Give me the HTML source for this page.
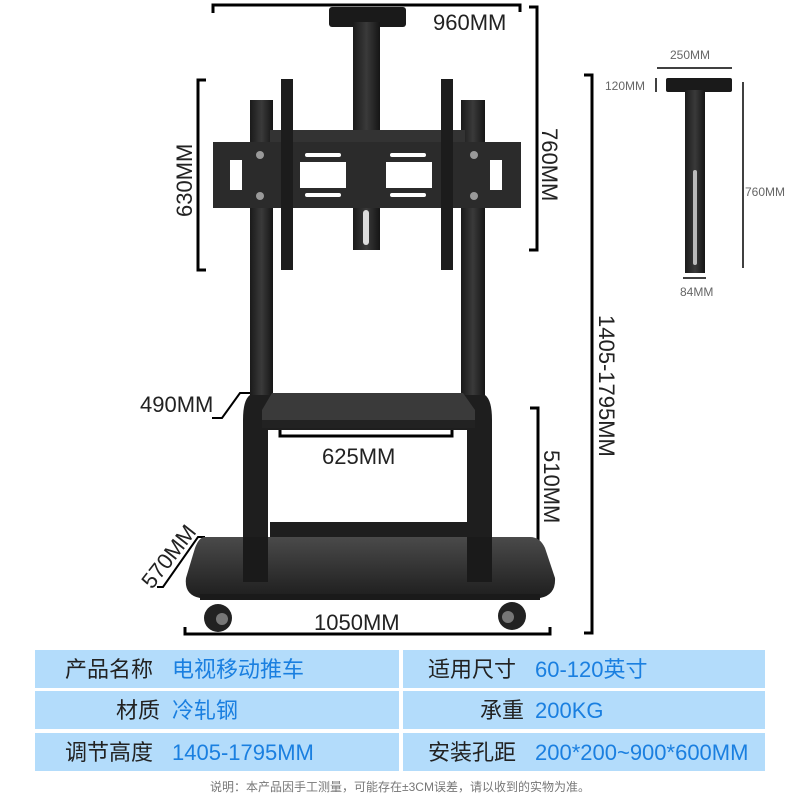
<!DOCTYPE html>
<html><head><meta charset="utf-8"><style>
html,body{margin:0;padding:0;background:#fff;width:800px;height:800px;overflow:hidden}
svg{display:block}
.cn{font-family:"Liberation Sans","Noto Sans CJK SC",sans-serif}
</style></head><body>
<svg width="800" height="800" viewBox="0 0 800 800" xmlns="http://www.w3.org/2000/svg" class="cn">
<defs>
<linearGradient id="g1" x1="0" x2="1"><stop offset="0" stop-color="#1a1a1a"/><stop offset=".5" stop-color="#3a3a3a"/><stop offset="1" stop-color="#151515"/></linearGradient>
<linearGradient id="base" x1="0" y1="0" x2="0" y2="1"><stop offset="0" stop-color="#4a4a4a"/><stop offset="1" stop-color="#1e1e1e"/></linearGradient>
</defs>
<g fill="none" stroke="#000" stroke-width="3">
<path d="M213 13 V5 H520 V12"/>
<path d="M529 7 H537 V250 H529"/>
<path d="M206 80 H198 V270 H206"/>
<path d="M584 75 H592 V633 H584"/>
<path d="M280 430 V436 H452 V430"/>
<path d="M530 408 H538 V553 H530"/>
<path d="M185 627 V634 H550 V627"/>
<path d="M250 393 H240 L222 418 H212" stroke-width="2"/>
<path d="M205 537 H198 L163 587 H157" stroke-width="2"/>
</g>
<g font-size="22" fill="#222">
<text x="433" y="30">960MM</text>
<text x="322" y="464">625MM</text>
<text x="314" y="630">1050MM</text>
<text x="140" y="412">490MM</text>
<text transform="translate(542,128) rotate(90)">760MM</text>
<text transform="translate(192,217) rotate(-90)">630MM</text>
<text transform="translate(599,315) rotate(90)">1405-1795MM</text>
<text transform="translate(544,450) rotate(90)">510MM</text>
<text transform="translate(152,590) rotate(-52)">570MM</text>
</g>
<!-- camera bracket -->
<rect x="329" y="7" width="77" height="20" rx="3" fill="#1a1a1a"/>
<rect x="353" y="22" width="27" height="228" fill="url(#g1)"/>
<rect x="363" y="210" width="6" height="35" rx="3" fill="#ddd"/>
<!-- uprights -->
<rect x="250" y="100" width="23" height="300" fill="url(#g1)"/>
<rect x="461" y="100" width="24" height="300" fill="url(#g1)"/>
<!-- mount plate -->
<rect x="270" y="130" width="195" height="15" fill="#333"/>
<rect x="213" y="142" width="308" height="66" fill="#2b2b2b"/>
<g fill="#fff">
<rect x="230" y="160" width="12" height="30"/><rect x="300" y="162" width="46" height="26"/>
<rect x="386" y="162" width="46" height="26"/><rect x="490" y="160" width="12" height="30"/>
<rect x="305" y="153" width="36" height="4" rx="2"/><rect x="305" y="193" width="36" height="4" rx="2"/>
<rect x="390" y="153" width="36" height="4" rx="2"/><rect x="390" y="193" width="36" height="4" rx="2"/>
<circle cx="260" cy="155" r="4" fill="#999"/><circle cx="260" cy="196" r="4" fill="#999"/>
<circle cx="474" cy="155" r="4" fill="#999"/><circle cx="474" cy="196" r="4" fill="#999"/>
</g>
<!-- arms -->
<rect x="281" y="79" width="12" height="191" fill="#1c1c1c"/>
<rect x="441" y="79" width="12" height="191" fill="#1c1c1c"/>
<!-- shelf & legs -->
<path d="M250 395 Q243 400 243 420 V580 H268 V430 H467 V580 H492 V420 Q492 400 485 395 Z" fill="#1e1e1e"/>
<path d="M272 393 H463 L475 410 V425 H262 V410 Z" fill="#3a3a3a"/>
<rect x="262" y="420" width="213" height="8" fill="#222"/>
<rect x="270" y="522" width="197" height="18" fill="#1e1e1e"/>
<!-- base -->
<path d="M205 537 H530 Q540 537 545 548 L555 578 Q556 595 540 598 H200 Q184 595 186 578 L195 548 Q199 537 205 537 Z" fill="url(#base)"/>
<rect x="243" y="537" width="25" height="45" fill="#1a1a1a"/><rect x="467" y="537" width="25" height="45" fill="#1a1a1a"/>
<rect x="200" y="594" width="340" height="6" fill="#1a1a1a"/>
<circle cx="218" cy="618" r="14" fill="#222"/><circle cx="222" cy="619" r="6" fill="#777"/>
<circle cx="512" cy="616" r="14" fill="#222"/><circle cx="508" cy="617" r="6" fill="#777"/>
<!-- small bracket -->
<g fill="#666" font-size="12">
<text x="670" y="59">250MM</text><text x="605" y="90">120MM</text>
<text x="745" y="196">760MM</text><text x="680" y="296">84MM</text>
</g>
<g stroke="#000" stroke-width="1.5" fill="none">
<path d="M657 68 H732"/><path d="M656 78 V92"/><path d="M743 82 V268"/><path d="M683 278 H706"/>
</g>
<rect x="666" y="78" width="66" height="14" rx="2" fill="#1a1a1a"/>
<rect x="685" y="90" width="20" height="183" fill="url(#g1)"/>
<rect x="693" y="170" width="4" height="95" rx="2" fill="#bbb"/>
<!-- table -->
<g fill="#b3dcfb">
<rect x="35" y="650" width="364" height="38"/><rect x="403" y="650" width="362" height="38"/>
<rect x="35" y="691" width="364" height="38"/><rect x="403" y="691" width="362" height="38"/>
<rect x="35" y="733" width="364" height="38"/><rect x="403" y="733" width="362" height="38"/>
</g>
<g font-size="22">
<text x="65" y="677" fill="#222">产品名称</text><text x="172" y="677" fill="#1a7fe0">电视移动推车</text>
<text x="428" y="677" fill="#222">适用尺寸</text><text x="535" y="677" fill="#1a7fe0">60-120英寸</text>
<text x="116" y="718" fill="#222">材质</text><text x="172" y="718" fill="#1a7fe0">冷轧钢</text>
<text x="480" y="718" fill="#222">承重</text><text x="535" y="718" fill="#1a7fe0">200KG</text>
<text x="65" y="760" fill="#222">调节高度</text><text x="172" y="760" fill="#1a7fe0">1405-1795MM</text>
<text x="428" y="760" fill="#222">安装孔距</text><text x="535" y="760" fill="#1a7fe0">200*200~900*600MM</text>
</g>
<text x="400" y="791" font-size="12" fill="#777" text-anchor="middle">说明：本产品因手工测量，可能存在±3CM误差，请以收到的实物为准。</text>
</svg>
</body></html>
